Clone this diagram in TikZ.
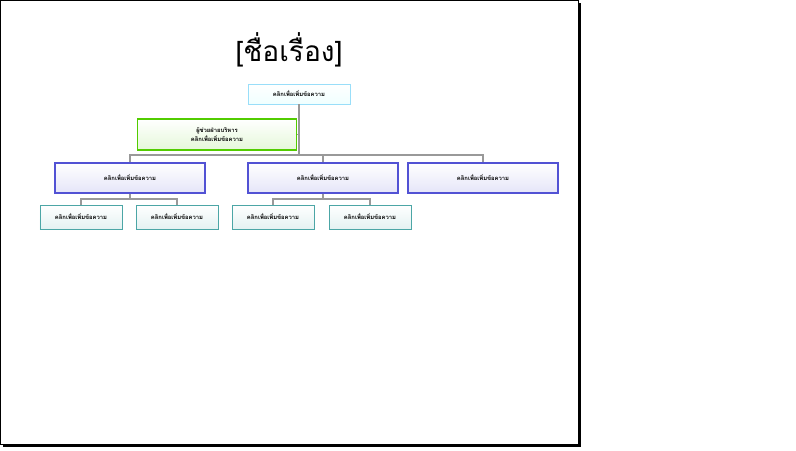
\documentclass[tikz,border=0pt]{standalone}
\usepackage{fontspec}
\newfontfamily\thaifont[Script=Thai]{Loma}
\usetikzlibrary{calc}
\colorlet{headcol}{cyan!40}
\colorlet{aidecol}{green!60!yellow!80!black}
\colorlet{unitcol}{blue!60!gray!85}
\colorlet{leafcol}{teal!70}
\tikzset{
  box/.style={draw=#1, rectangle, top color=white, bottom color=#1!15,
              text centered, font=\thaifont\bfseries\fontsize{5}{6}\selectfont, inner sep=1pt},
  topbox/.style={box=headcol, minimum width=3.06cm, minimum height=0.6cm, line width=0.8pt},
  helper/.style={box=aidecol, minimum width=4.77cm, minimum height=0.93cm, text width=4.5cm, line width=1pt},
  unit/.style={box=unitcol, minimum width=4.5cm, minimum height=0.9cm, line width=1pt},
  leaf/.style={box=leafcol, minimum width=2.46cm, minimum height=0.72cm, line width=0.8pt},
  link/.style={draw=gray!80, line width=1pt}
}
\begin{document}
\begin{tikzpicture}[x=0.03cm, y=-0.03cm]
% slide
\useasboundingbox (0,0) rectangle (796,450);
\fill[black] (3,3) rectangle (581,447);
\draw[fill=white, line width=0.6pt] (0,0) rectangle (578,444);
\node (title) at (289,50) {\thaifont\fontsize{24}{28}\selectfont [ชื่อเรื่อง]};

% nodes
\node [topbox] (head) at (299,94) {คลิกเพื่อเพิ่มข้อความ};
\node [helper] (aide) at (217,134.5) {ผู้ช่วยฝ่ายบริหาร\\คลิกเพื่อเพิ่มข้อความ};
\node [unit] (ua) at (130,178) {คลิกเพื่อเพิ่มข้อความ};
\node [unit] (ub) at (323,178) {คลิกเพื่อเพิ่มข้อความ};
\node [unit] (uc) at (483,178) {คลิกเพื่อเพิ่มข้อความ};
\node [leaf] (a1) at (81,217) {คลิกเพื่อเพิ่มข้อความ};
\node [leaf] (a2) at (177,217) {คลิกเพื่อเพิ่มข้อความ};
\node [leaf] (b1) at (273,217) {คลิกเพื่อเพิ่มข้อความ};
\node [leaf] (b2) at (370,217) {คลิกเพื่อเพิ่มข้อความ};

% connections
\coordinate (bar) at (299,155);
\draw[link] (head) -- (bar);
\draw[link] (aide.east) -- (aide.east -| head);
\draw[link] (bar) -| (ua);
\draw[link] (bar) -| (ub);
\draw[link] (bar) -| (uc);
\draw[link] (ua) -- ++(0,21) -| (a1);
\draw[link] (ua) -- ++(0,21) -| (a2);
\draw[link] (ub) -- ++(0,21) -| (b1);
\draw[link] (ub) -- ++(0,21) -| (b2);
\end{tikzpicture}
\end{document}
